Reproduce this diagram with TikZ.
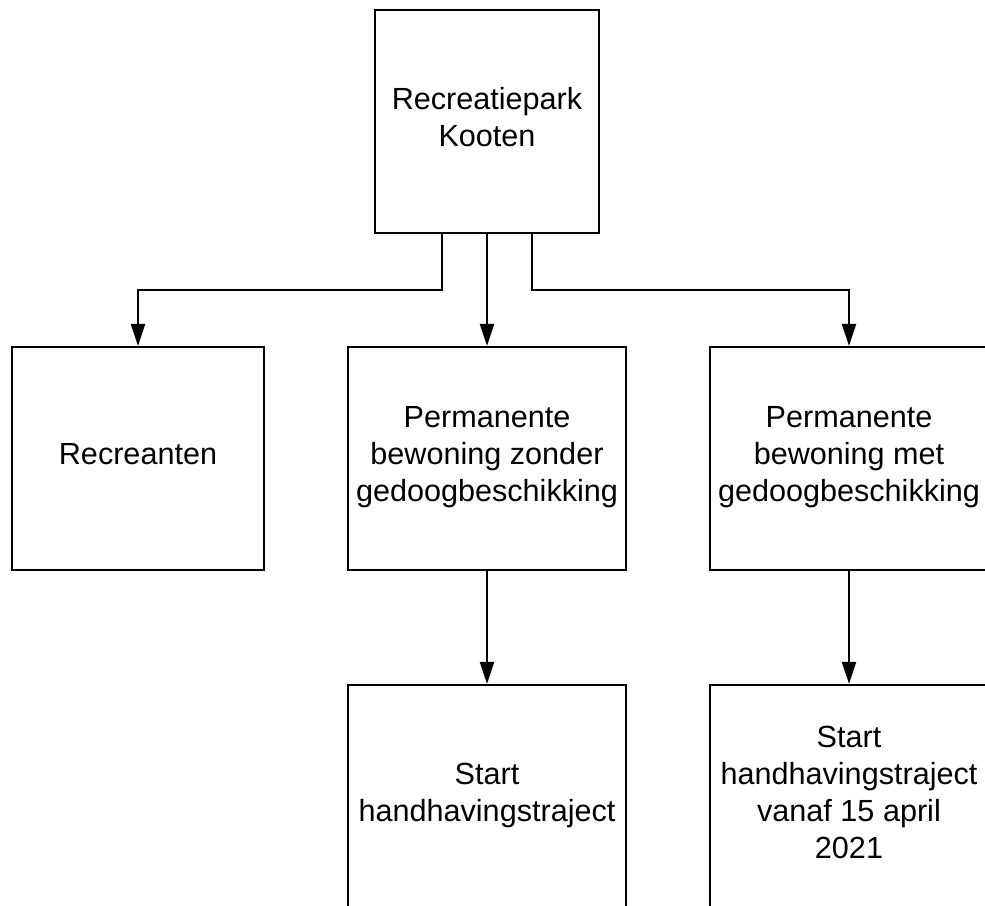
\documentclass[tikz,border=0pt]{standalone}
\usepackage{fontspec}
\setmainfont{Liberation Sans}
\usetikzlibrary{arrows.meta}
\newcommand\ms{\rule[-12.5pt]{0pt}{37pt}}
\tikzset{
  box/.style={draw=black, line width=2.2pt, fill=white, inner sep=0pt, minimum height=223pt, align=center,
    font=\fontsize{30.6pt}{37pt}\selectfont},
  arr/.style={draw=black, line width=2.2pt, -{Triangle[length=22pt,width=14pt]}}
}
\begin{document}
\begin{tikzpicture}[x=1pt,y=-1pt]
\useasboundingbox (0,0) rectangle (985,905);
\clip (0,0) rectangle (985,905);
\fill[white] (0,0) rectangle (985,905);
\node[box, minimum width=224pt] (top) at (487,121.5) {\ms Recreatiepark\\\ms Kooten};
\node[box, minimum width=252pt] (rec) at (138,458.5) {\ms Recreanten};
\node[box, minimum width=278pt] (zonder) at (487,458.5) {\ms Permanente\\\ms bewoning zonder\\\ms gedoogbeschikking};
\node[box, minimum width=278pt] (met) at (849,458.5) {\ms Permanente\\\ms bewoning met\\\ms gedoogbeschikking};
\node[box, minimum width=278pt] (start1) at (487,796.5) {\ms Start\\\ms handhavingstraject};
\node[box, minimum width=278pt] (start2) at (849,796.5) {\ms Start\\\ms handhavingstraject\\\ms vanaf 15 april\\\ms 2021};
\coordinate (hl) at (0,290);
\draw[arr] ([xshift=-45pt]top.south) |- (hl -| rec.north) -- (rec.north);
\draw[arr] (top.south) -- (zonder.north);
\draw[arr] ([xshift=45pt]top.south) |- (hl -| met.north) -- (met.north);
\draw[arr] (zonder.south) -- (start1.north);
\draw[arr] (met.south) -- (start2.north);
\end{tikzpicture}
\end{document}
